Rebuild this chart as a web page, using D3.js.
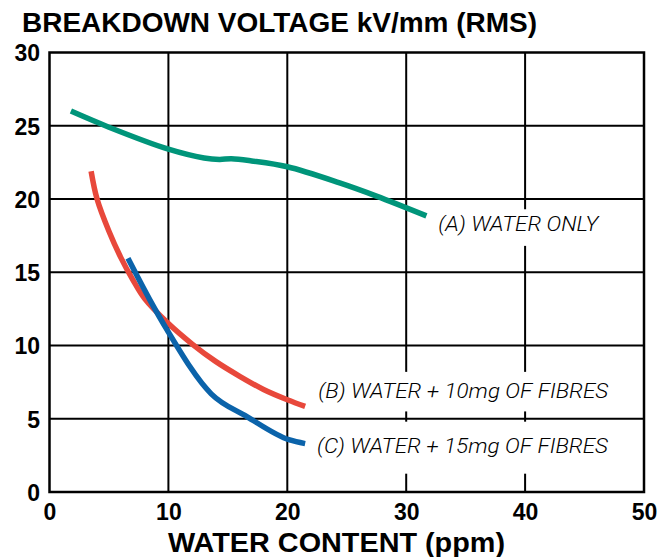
<!DOCTYPE html>
<html>
<head>
<meta charset="utf-8">
<script src="https://cdn.jsdelivr.net/npm/d3@7"></script>
<style>
  html, body { margin: 0; padding: 0; background: #fff; }
  svg { display: block; }
</style>
</head>
<body>
<svg id="chart" width="666" height="557"></svg>
<script>
// ---- data ----
const xTicks = [0, 10, 20, 30, 40, 50];
const yTicks = [0, 5, 10, 15, 20, 25, 30];
const titleText = "BREAKDOWN VOLTAGE kV/mm (RMS)";
const xTitle = "WATER CONTENT (ppm)";

const waterOnlyX = [1.8, 5, 10, 13, 14.3, 15.3, 17, 20, 24.4, 27.5, 31.7];
const waterOnlyY = [26.0, 24.9, 23.4, 22.8, 22.7, 22.75, 22.6, 22.2, 21.1, 20.2, 18.85];

const fibres10X = [3.5, 4.0, 5.0, 6.0, 7.0, 8.0, 10, 12, 14, 16, 18, 20, 21.5];
const fibres10Y = [21.9, 20.0, 17.8, 16.0, 14.5, 13.2, 11.5, 10.1, 8.9, 7.9, 7.0, 6.3, 5.85];

const fibres15X = [6.6, 8.45, 9.9, 13.6, 16.6, 20.2, 21.5];
const fibres15Y = [15.95, 13.1, 11.05, 6.7, 5.15, 3.55, 3.3];

const seriesNames = ["(A) WATER ONLY", "(B) WATER + 10mg OF FIBRES", "(C) WATER + 15mg OF FIBRES"];
const seriesColors = ["#00957a", "#e8483b", "#0b63aa"];

// ---- layout ----
const svg = d3.select("#chart");
const pL = 49.5, pR = 644, pT = 52.5, pB = 492;

const x = d3.scaleLinear().domain([0, 50]).range([pL, pR]);
const y = d3.scaleLinear().domain([0, 30]).range([pB, pT]);

// grid
const grid = svg.append("g");
grid.selectAll("line.v").data(xTicks.slice(1, -1)).enter().append("line")
  .attr("x1", d => x(d)).attr("x2", d => x(d))
  .attr("y1", pT).attr("y2", pB)
  .attr("stroke", "#000").attr("stroke-width", 2);
grid.selectAll("line.h").data(yTicks.slice(1, -1)).enter().append("line")
  .attr("x1", pL).attr("x2", pR)
  .attr("y1", d => y(d)).attr("y2", d => y(d))
  .attr("stroke", "#000").attr("stroke-width", 2);

// label background boxes (hide grid behind the labels)
const boxes = [
  {x0: 31.2, x1: 46.5, y0: 19.3, y1: 16.8},
  {x0: 22.5, x1: 47.5, y0: 8.2, y1: 5.5},
  {x0: 22.4, x1: 47.5, y0: 4.8, y1: 1.25}
];
svg.append("g").selectAll("rect").data(boxes).enter().append("rect")
  .attr("x", d => x(d.x0)).attr("width", d => x(d.x1) - x(d.x0))
  .attr("y", d => y(d.y0)).attr("height", d => y(d.y1) - y(d.y0))
  .attr("fill", "#fff");

// frame
svg.append("rect")
  .attr("x", pL).attr("y", pT)
  .attr("width", pR - pL).attr("height", pB - pT)
  .attr("fill", "none").attr("stroke", "#000").attr("stroke-width", 2.5);

// axes (labels only)
const xAxis = d3.axisBottom(x).tickValues(xTicks).tickSize(0).tickPadding(0);
const yAxis = d3.axisLeft(y).tickValues(yTicks).tickSize(0).tickPadding(0);

const gx = svg.append("g").attr("transform", `translate(0,${pB})`).call(xAxis);
gx.select(".domain").remove();
gx.selectAll("text")
  .attr("y", 28).attr("dy", 0)
  .attr("font-family", "Liberation Sans, Arial, sans-serif")
  .attr("font-weight", "bold").attr("font-size", 23).attr("fill", "#000");

const gy = svg.append("g").attr("transform", `translate(40,0)`).call(yAxis);
gy.select(".domain").remove();
gy.selectAll("text")
  .attr("x", 0).attr("dy", "0.36em")
  .attr("font-family", "Liberation Sans, Arial, sans-serif")
  .attr("font-weight", "bold").attr("font-size", 23).attr("fill", "#000");

// title
svg.append("text")
  .attr("x", 22).attr("y", 32)
  .attr("font-family", "Liberation Sans, Arial, sans-serif")
  .attr("font-weight", "bold").attr("font-size", 27)
  .attr("textLength", 515).attr("lengthAdjust", "spacingAndGlyphs")
  .text(titleText);

svg.append("text")
  .attr("x", 168).attr("y", 552)
  .attr("font-family", "Liberation Sans, Arial, sans-serif")
  .attr("font-weight", "bold").attr("font-size", 27)
  .attr("textLength", 337).attr("lengthAdjust", "spacingAndGlyphs")
  .text(xTitle);

// series
const series = [
  {xs: waterOnlyX, ys: waterOnlyY, curve: d3.curveCatmullRom.alpha(0.5)},
  {xs: fibres10X, ys: fibres10Y, curve: d3.curveCatmullRom.alpha(0.5)},
  {xs: fibres15X, ys: fibres15Y, curve: d3.curveMonotoneX}
];
series.forEach((s, i) => {
  const pts = s.xs.map((v, k) => [v, s.ys[k]]);
  const line = d3.line().x(d => x(d[0])).y(d => y(d[1])).curve(s.curve);
  svg.append("path").datum(pts)
    .attr("d", line)
    .attr("fill", "none")
    .attr("stroke", seriesColors[i])
    .attr("stroke-width", 5.5);
});

// series labels
const labelPos = [
  {x: 32.7, y: 17.8},
  {x: 22.6, y: 6.4},
  {x: 22.5, y: 2.65}
];
svg.append("g").selectAll("text").data(seriesNames).enter().append("text")
  .attr("x", (d, i) => x(labelPos[i].x))
  .attr("y", (d, i) => y(labelPos[i].y))
  .attr("font-family", "Roboto, Liberation Sans, sans-serif")
  .attr("font-style", "italic").attr("font-weight", 300)
  .attr("font-size", 21)
  .attr("textLength", (d, i) => [160, 290, 291][i])
  .attr("lengthAdjust", "spacingAndGlyphs")
  .attr("fill", "#000")
  .text(d => d);
</script>
</body>
</html>
